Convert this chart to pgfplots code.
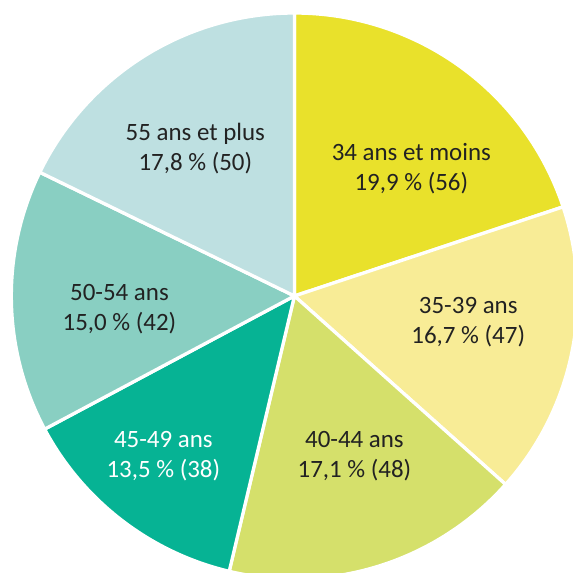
\documentclass[border=0pt]{standalone}
\usepackage{pgfplots}
\usepackage{pgfplotstable}
\pgfplotsset{compat=1.18}
\usepackage{fontspec}
\setmainfont{Carlito}

\definecolor{c0}{HTML}{E9E12B}
\definecolor{c1}{HTML}{F8EC96}
\definecolor{c2}{HTML}{D5E06B}
\definecolor{c3}{HTML}{06B394}
\definecolor{c4}{HTML}{89CFC2}
\definecolor{c5}{HTML}{BEE0E1}
\definecolor{txt}{HTML}{222222}

% share of each age group, in %, clockwise from 12 o'clock
\pgfplotstableread{
pct   n
19.9  56
16.7  47
17.1  48
13.5  38
15.0  42
17.8  50
}\data

\begin{document}
\begin{tikzpicture}
\begin{axis}[
    width=8cm, height=8cm, scale only axis,
    xmin=-1.04, xmax=0.984, ymin=-0.979, ymax=1.046,
    axis line style={draw=none}, ticks=none,
    clip=true,
  ]
  \def\cum{0}
  \pgfplotsforeachungrouped \i in {0,...,5}{
    \pgfplotstablegetelem{\i}{pct}\of\data
    \let\p\pgfplotsretval
    \pgfmathsetmacro\a{90-3.6*\cum}
    \pgfmathsetmacro\b{90-3.6*(\cum+\p)}
    \pgfmathsetmacro\cum{\cum+\p}
    \edef\temp{\noexpand\addplot[fill=c\i, draw=white, line width=1.3pt,
        line join=round, domain=\b:\a, samples=80]
        ({cos(x)},{sin(x)}) -- (axis cs:0,0) -- cycle;}
    \temp
  }

  \tikzset{lab/.style={align=center, text=txt,
      font=\fontsize{9.9}{11.9}\selectfont}}
  \node[lab] at (axis cs: 0.413, 0.450) {34 ans et moins\\19,9 \% (56)};
  \node[lab] at (axis cs: 0.614,-0.094) {35-39 ans\\16,7 \% (47)};
  \node[lab] at (axis cs: 0.212,-0.567) {40-44 ans\\17,1 \% (48)};
  \node[lab, text=white] at (axis cs:-0.463,-0.567) {45-49 ans\\13,5 \% (38)};
  \node[lab] at (axis cs:-0.618,-0.048) {50-54 ans\\15,0 \% (42)};
  \node[lab] at (axis cs:-0.350, 0.521) {55 ans et plus\\17,8 \% (50)};
\end{axis}
\end{tikzpicture}
\end{document}
